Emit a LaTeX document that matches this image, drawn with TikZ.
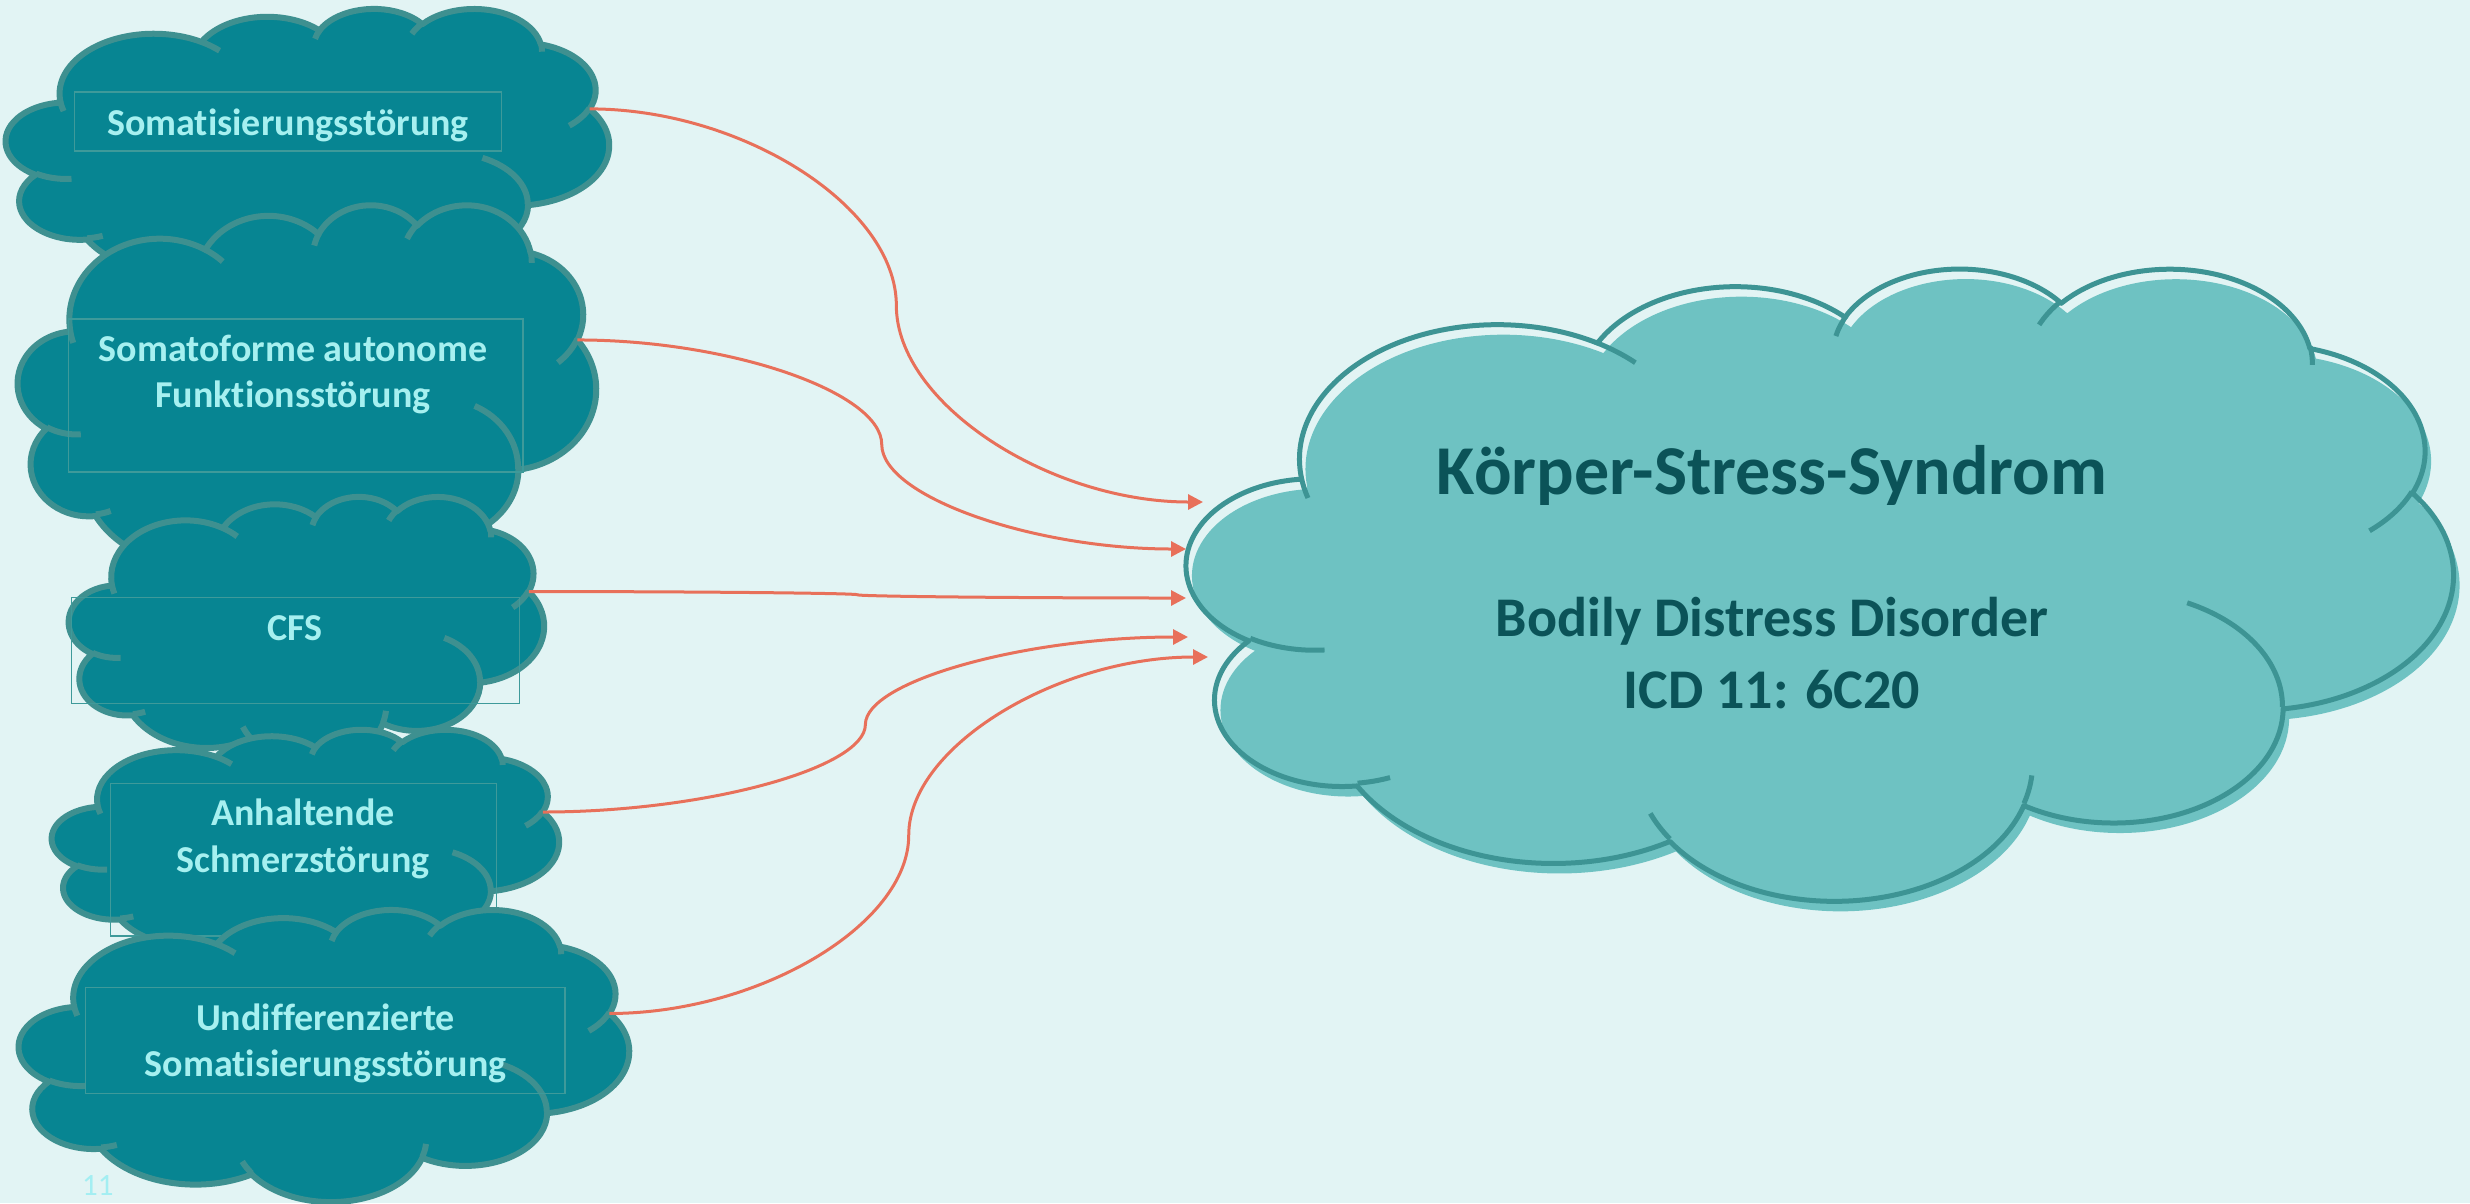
\documentclass[tikz,border=0pt]{standalone}
\usepackage{fontspec}
\setmainfont{Carlito}[Ligatures=NoCommon]
\usetikzlibrary{arrows.meta,calc}

\definecolor{bg}{HTML}{E2F4F4}
\definecolor{lfill}{HTML}{078592}
\definecolor{lline}{HTML}{3E9090}
\definecolor{ltext}{HTML}{A6F0F0}
\definecolor{bfill}{HTML}{6EC2C2}
\definecolor{bline}{HTML}{3D9494}
\definecolor{btext}{HTML}{0B5358}
\definecolor{arrowc}{HTML}{E8705A}
\definecolor{boxc}{HTML}{3E9A9A}
\definecolor{numc}{HTML}{A3EEF2}

% PowerPoint arcTo (visual angles) -> TikZ parametric angles
\newcommand\pptang[5]{%
  \pgfmathsetmacro\pptA{atan2(#2*sin(#4),#3*cos(#4))}%
  \pgfmathsetmacro\pptB{atan2(#2*sin(#4+#5),#3*cos(#4+#5))}%
  \pgfmathsetmacro\pptD{mod(\pptB-(\pptA)+720,360)}%
  \expandafter\let\csname #1s\endcsname\pptA
  \expandafter\let\csname #1d\endcsname\pptD}
\pptang{oA}{6.753}{9.190}{-190.48748}{123.78053}
\pptang{oB}{5.333}{7.267}{-144.10238}{89.94523}
\pptang{oC}{4.365}{5.945}{-145.80792}{99.72302}
\pptang{oD}{4.857}{6.595}{-130.98607}{117.24173}
\pptang{oE}{5.333}{7.273}{-78.70888}{109.02692}
\pptang{oF}{6.775}{9.220}{-46.26725}{130.26900}
\pptang{oG}{5.785}{7.867}{0.62502}{114.03333}
\pptang{oH}{6.752}{9.215}{22.45160}{115.17255}
\pptang{oI}{7.720}{10.543}{66.24263}{75.71102}
\pptang{oJ}{4.360}{5.918}{-274.94208}{146.73557}
\pptang{oK}{4.345}{5.945}{-246.82850}{152.51885}
\pptang{iA}{4.345}{5.945}{86.742}{26.4295}
\pptang{iB}{4.360}{5.918}{73.61047}{11.44747}
\pptang{iC}{6.752}{9.215}{137.62415}{14.0811}
\pptang{iD}{6.752}{9.215}{6.45327}{15.99835}
\pptang{iE}{5.785}{7.867}{-70.29235}{70.91737}
\pptang{iF}{5.333}{7.273}{30.31803}{27.7515}
\pptang{iG}{4.857}{6.595}{-13.74433}{14.8589}
\pptang{iH}{4.857}{6.595}{-149.18145}{18.19537}
\pptang{iI}{4.365}{5.945}{-163.49427}{17.68635}
\pptang{iJ}{6.753}{9.190}{-66.70695}{12.31935}
\pptang{iK}{6.753}{9.190}{157.65435}{11.85817}

% cloud: x0 y0 W H outer-style inner-style connection-name
\newcommand\cloudshape[7]{%
\begin{scope}[shift={(#1,#2)},x=1pt,y=1pt,xscale=#3/43.2,yscale=-#4/43.2]
\path[#5] (3.9,14.37)
  arc[start angle=\oAs,delta angle=\oAd,x radius=6.753,y radius=9.190]
  arc[start angle=\oBs,delta angle=\oBd,x radius=5.333,y radius=7.267]
  arc[start angle=\oCs,delta angle=\oCd,x radius=4.365,y radius=5.945]
  arc[start angle=\oDs,delta angle=\oDd,x radius=4.857,y radius=6.595]
  arc[start angle=\oEs,delta angle=\oEd,x radius=5.333,y radius=7.273]
  arc[start angle=\oFs,delta angle=\oFd,x radius=6.775,y radius=9.220]
  arc[start angle=\oGs,delta angle=\oGd,x radius=5.785,y radius=7.867]
  arc[start angle=\oHs,delta angle=\oHd,x radius=6.752,y radius=9.215]
  arc[start angle=\oIs,delta angle=\oId,x radius=7.720,y radius=10.543]
  arc[start angle=\oJs,delta angle=\oJd,x radius=4.360,y radius=5.918]
  arc[start angle=\oKs,delta angle=\oKd,x radius=4.345,y radius=5.945]
  -- cycle;
\path[#6]
  (4.693,26.177) arc[start angle=\iAs,delta angle=\iAd,x radius=4.345,y radius=5.945]
  (6.928,34.899) arc[start angle=\iBs,delta angle=\iBd,x radius=4.360,y radius=5.918]
  (16.478,39.090) arc[start angle=\iCs,delta angle=\iCd,x radius=6.752,y radius=9.215]
  (28.827,34.751) arc[start angle=\iDs,delta angle=\iDd,x radius=6.752,y radius=9.215]
  (34.129,22.954) arc[start angle=\iEs,delta angle=\iEd,x radius=5.785,y radius=7.867]
  (41.798,15.354) arc[start angle=\iFs,delta angle=\iFd,x radius=5.333,y radius=7.273]
  (38.324,5.426) arc[start angle=\iGs,delta angle=\iGd,x radius=4.857,y radius=6.595]
  (29.078,3.952) arc[start angle=\iHs,delta angle=\iHd,x radius=4.857,y radius=6.595]
  (22.141,4.720) arc[start angle=\iIs,delta angle=\iId,x radius=4.365,y radius=5.945]
  (14.000,5.192) arc[start angle=\iJs,delta angle=\iJd,x radius=6.753,y radius=9.190]
  (4.127,15.789) arc[start angle=\iKs,delta angle=\iKd,x radius=6.753,y radius=9.190];
\coordinate (#7) at (41.816,15.456);
\end{scope}}

% PowerPoint curved connector (curvedConnector3)
\newcommand\curvconn[2]{%
  \coordinate (#1q) at ($(#1)!.25!(#2)$);
  \coordinate (#1m) at ($(#1)!.5!(#2)$);
  \coordinate (#1r) at ($(#1)!.75!(#2)$);
  \draw[conn] (#1) .. controls (#1q |- #1) and (#1m |- #1q) .. (#1m)
                   .. controls (#1m |- #1r) and (#1r |- #2) .. (#2);}

\begin{document}
\begin{tikzpicture}[x=1pt,y=-1pt,
  lout/.style={fill=lfill,draw=lline,line width=6pt,line join=round},
  lin/.style={draw=lline,line width=6pt},
  bshade/.style={fill=bfill},
  bout/.style={draw=bline,line width=5pt,line join=round},
  tbox/.style={draw=boxc,line width=1.5pt},
  ltxt/.style={text=ltext,inner sep=0pt,anchor=base,
    font=\fontsize{38pt}{46.5pt}\selectfont\bfseries},
  conn/.style={draw=arrowc,line width=3pt,-{Triangle[length=15pt,width=15pt]}}]
\useasboundingbox (0,0) rectangle (2470,1203);
\fill[bg] (0,0) rectangle (2470,1203);

% left clouds
\cloudshape{6}{8}{603}{282}{lout}{lin}{s1}
\draw[tbox] (74.6,91.9) rectangle (501.6,150.8);
\node[ltxt] (n1) at (288,135) {Somatisierungsstörung};

\cloudshape{18}{204}{578}{380}{lout}{lin}{s2}
\draw[tbox] (68.4,319.2) rectangle (523.2,471.8);
\node[ltxt] (n2) at (293,361.3) {\begin{tabular}[t]{@{}c@{}}Somatoforme autonome\\Funktionsstörung\end{tabular}};

\cloudshape{69}{496}{475}{267}{lout}{lin}{s3}
\draw[tbox] (71.6,597.3) rectangle (519.3,703.3);
\node[ltxt] (n3) at (295,640) {CFS};

\cloudshape{52}{729}{507}{232}{lout}{lin}{s4}
\draw[tbox] (110.7,783.3) rectangle (496.7,936);
\node[ltxt] (n4) at (303,825.7) {\begin{tabular}[t]{@{}c@{}}Anhaltende\\Schmerzstörung\end{tabular}};

\cloudshape{19}{909}{610}{292}{lout}{lin}{s5}
\draw[tbox] (85.4,987.7) rectangle (565.1,1093.3);
\node[ltxt] (n5) at (325.6,1030) {\begin{tabular}[t]{@{}c@{}}Undifferenzierte\\Somatisierungsstörung\end{tabular}};

% big cloud
\cloudshape{1193}{277}{1266}{632}{bshade}{draw=none}{bs}
\cloudshape{1187}{267}{1266}{632}{bout}{bout}{bo}
\node[text=btext,inner sep=0pt,anchor=base,font=\fontsize{70pt}{84pt}\selectfont\bfseries]
  (title) at (1772,494.6) {Körper-Stress-Syndrom};
\node[text=btext,inner sep=0pt,anchor=base,font=\fontsize{56pt}{72pt}\selectfont\bfseries]
  (sub) at (1772,636) {\begin{tabular}[t]{@{}c@{}}Bodily Distress Disorder\\ICD 11: 6C20\end{tabular}};

% connectors
\coordinate (e1) at (1203,502);
\coordinate (e2) at (1186,549);
\coordinate (e3) at (1186,598);
\coordinate (e4) at (1188,637);
\coordinate (e5) at (1208,657);
\curvconn{s1}{e1}
\curvconn{s2}{e2}
\curvconn{s3}{e3}
\curvconn{s4}{e4}
\curvconn{s5}{e5}

% slide number
\node[text=numc,inner sep=0pt,anchor=base west,font=\fontsize{31pt}{37pt}\selectfont]
  (pagenum) at (82,1195) {11};
\end{tikzpicture}
\end{document}
